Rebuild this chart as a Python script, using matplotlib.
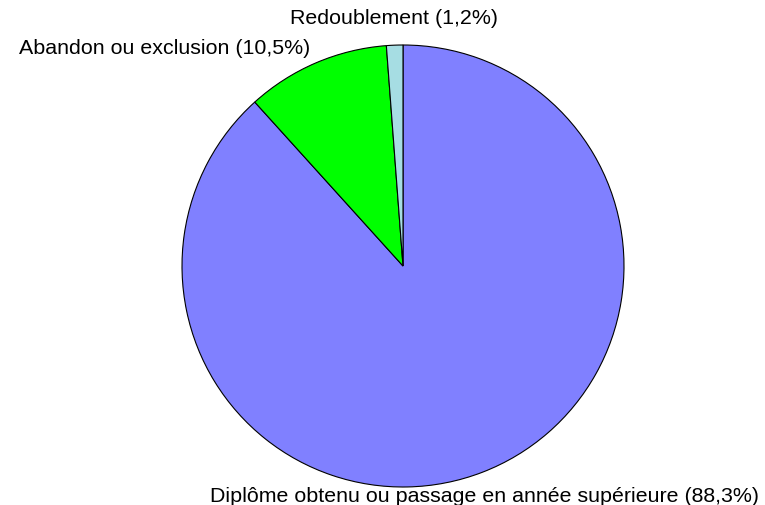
import matplotlib
matplotlib.use("Agg")
import matplotlib.pyplot as plt

categories = ["Diplôme obtenu ou passage en année supérieure",
              "Abandon ou exclusion",
              "Redoublement"]
values = [88.3, 10.5, 1.2]
colors = ["#8080FF", "#00FF00", "#A6DDE3"]

plt.rcParams['font.family'] = ['Liberation Sans', 'DejaVu Sans']

W, H = 765, 506
fig = plt.figure(figsize=(W / 100, H / 100), dpi=100)
cx, cy, r = 403, 267, 221
ax = fig.add_axes([(cx - r) / W, (H - cy - r) / H, 2 * r / W, 2 * r / H])
ax.pie(values, colors=colors, startangle=90, counterclock=False,
       wedgeprops=dict(edgecolor="black", linewidth=0.8))
ax.set_xlim(-1, 1)
ax.set_ylim(-1, 1)
ax.set_aspect("equal")
ax.axis("off")

def lab(i):
    return f"{categories[i]} ({values[i]:.1f}%)".replace(".", ",")

fs = 15.4
ax.text(-0.04, 1.125, lab(2), ha="center", va="center", fontsize=fs, clip_on=False)
ax.text(-0.42, 0.99, lab(1), ha="right", va="center", fontsize=fs, clip_on=False)
ax.text(0.37, -1.04, lab(0), ha="center", va="center", fontsize=fs, clip_on=False)

fig.savefig("out.png", dpi=100)
